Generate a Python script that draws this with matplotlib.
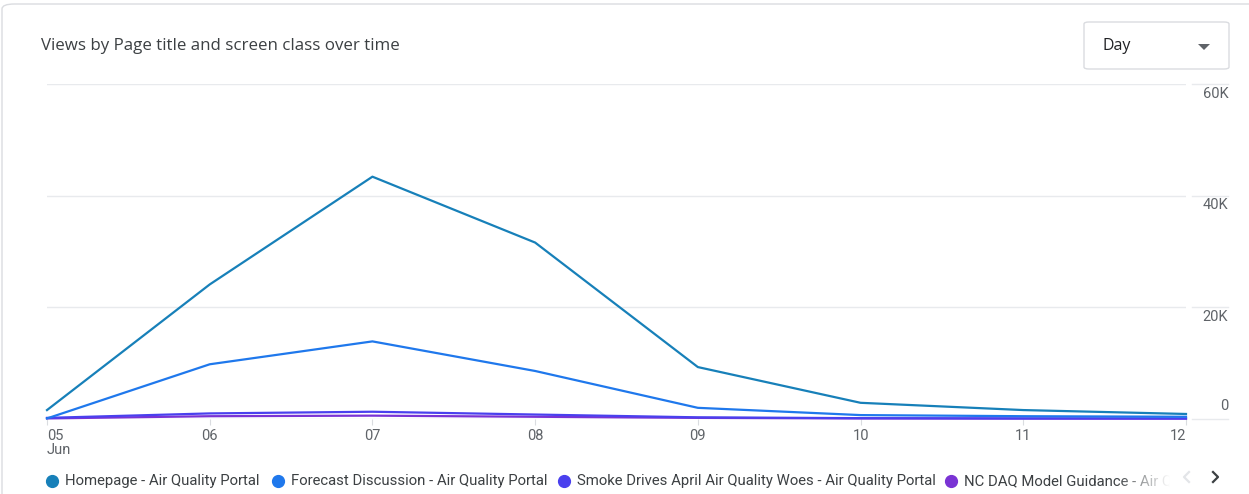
import matplotlib
matplotlib.use("Agg")
import matplotlib.pyplot as plt
from matplotlib.patches import FancyBboxPatch, Polygon
from matplotlib.lines import Line2D
from matplotlib.colors import LinearSegmentedColormap
import numpy as np

plt.rcParams['font.family'] = ['Roboto', 'DejaVu Sans']

# ---- data ----
dates = ["05", "06", "07", "08", "09", "10", "11", "12"]
series_names = [
    "Homepage - Air Quality Portal",
    "Forecast Discussion - Air Quality Portal",
    "Smoke Drives April Air Quality Woes - Air Quality Portal",
    "NC DAQ Model Guidance - Air Quality Portal",
]
homepage = [1600, 24100, 43400, 31600, 9300, 2900, 1600, 900]
forecast = [100, 9800, 13900, 8600, 2000, 700, 500, 400]
smoke = [200, 1000, 1300, 800, 300, 150, 100, 100]
ncdaq = [100, 500, 600, 400, 200, 100, 80, 60]
colors = ["#1780b9", "#1f78ec", "#4a40ee", "#7a33d4"]
yticks = [0, 20000, 40000, 60000]
ytick_labels = ["0", "20K", "40K", "60K"]

W, H = 1249, 494
fig = plt.figure(figsize=(W / 100, H / 100), dpi=100)

def fx(px):
    return px / W

def fy(py):
    return 1 - py / H

# card border (extends beyond bottom/right of the picture)
card = FancyBboxPatch((fx(2), fy(560)), fx(1300), fy(4) - fy(560),
                      boxstyle="round,pad=0,rounding_size=0.01",
                      transform=fig.transFigure, facecolor="none",
                      edgecolor="#dadce0", linewidth=1.0, zorder=-5)
fig.patches.append(card)

# title
fig.text(fx(41), fy(46), "Views by Page title and screen class over time",
         fontsize=12.2, color="#3c4043", va="center", ha="left",
         family=["Open Sans", "DejaVu Sans"])

# dropdown
dd = FancyBboxPatch((fx(1084), fy(69)), fx(145), fy(22) - fy(69),
                    boxstyle="round,pad=0,rounding_size=0.004",
                    transform=fig.transFigure, facecolor="none",
                    edgecolor="#dadce0", linewidth=1.0, zorder=-5)
fig.patches.append(dd)
fig.text(fx(1103), fy(46), "Day", fontsize=11.5, color="#202124",
         va="center", ha="left", family=["Open Sans", "DejaVu Sans"])
tri = Polygon([(fx(1198), fy(44)), (fx(1210), fy(44)), (fx(1204), fy(50))],
              closed=True, transform=fig.transFigure, facecolor="#5f6368",
              edgecolor="none")
fig.patches.append(tri)

# axes
left, right, top, bottom = 47, 1186, 84, 419
ax = fig.add_axes([fx(left), fy(bottom), fx(right - left), fy(top) - fy(bottom)])
ax.set_xlim(0, len(dates) - 1)
ax.set_ylim(0, 60000)
for s in ax.spines.values():
    s.set_visible(False)
ax.set_yticks(yticks)
ax.set_yticklabels([])
ax.tick_params(axis="y", length=0)
ax.grid(axis="y", color="#e8eaed", linewidth=1.0)
ax.set_axisbelow(True)

x = list(range(len(dates)))
data = [homepage, forecast, smoke, ncdaq]
for i in reversed(range(len(data))):
    ax.plot(x, data[i], color=colors[i], linewidth=1.6, zorder=3 + (3 - i),
            solid_joinstyle="round", clip_on=False)

ax.set_xticks(x)
xl = [dates[0] + "\nJun"] + dates[1:]
ax.set_xticklabels(xl, fontsize=10.5, color="#5f6368", linespacing=1.0)
ax.get_xticklabels()[0].set_horizontalalignment("left")
ax.get_xticklabels()[-1].set_horizontalalignment("right")
ax.tick_params(axis="x", length=4, color="#dadce0", pad=3)

# y labels with side gridline segments
for v, lab in zip(yticks, ytick_labels):
    ya = v / 60000
    ax.plot([1.005, 1.037], [ya, ya], transform=ax.transAxes,
            color="#e8eaed", linewidth=1.0, clip_on=False)
    if v == 0:
        ax.text(1.037, ya + 0.018, lab, transform=ax.transAxes,
                ha="right", va="bottom", fontsize=10.5, color="#5f6368")
    else:
        ax.text(1.037, ya - 0.008, lab, transform=ax.transAxes,
                ha="right", va="top", fontsize=10.5, color="#5f6368")

# legend
legend_x = [52, 278, 564, 951]
leg_y = 481
for i, lx in enumerate(legend_x):
    fig.add_artist(Line2D([fx(lx)], [fy(leg_y)], transform=fig.transFigure,
                          marker="o", markersize=8.5, color=colors[i],
                          linestyle="none"))
for i in range(3):
    fig.text(fx(legend_x[i] + 13), fy(leg_y), series_names[i], fontsize=10.7,
             color="#3c4043", va="center", ha="left")
fig.text(fx(legend_x[3] + 13), fy(leg_y), "NC DAQ Model Guidance - Air Q",
         fontsize=10.7, color="#3c4043", va="center", ha="left")

# fade over end of last legend item
grad = np.linspace(0, 1, 100).reshape(1, -1)
cmap = LinearSegmentedColormap.from_list("fade", [(1, 1, 1, 0), (1, 1, 1, 1)])
fade_ax = fig.add_axes([fx(1115), fy(492), fx(55), fy(470) - fy(492)], zorder=10)
fade_ax.imshow(grad, aspect="auto", cmap=cmap, extent=[0, 1, 0, 1])
fade_ax.axis("off")
cover = fig.add_axes([fx(1170), fy(492), fx(75), fy(470) - fy(492)], zorder=10)
cover.set_xlim(0, 1)
cover.set_ylim(0, 1)
cover.add_patch(plt.Rectangle((0, 0), 1, 1, facecolor="white", edgecolor="none"))
cover.axis("off")

# pager chevrons
fig.add_artist(Line2D([fx(1189), fx(1184), fx(1189)],
                      [fy(472), fy(477), fy(482)], transform=fig.transFigure,
                      color="#e3e5e8", linewidth=1.6, zorder=11))
fig.add_artist(Line2D([fx(1213), fx(1218), fx(1213)],
                      [fy(472), fy(477), fy(482)], transform=fig.transFigure,
                      color="#3c4043", linewidth=1.6, zorder=11))

fig.savefig("out.png", dpi=100, facecolor="white")
